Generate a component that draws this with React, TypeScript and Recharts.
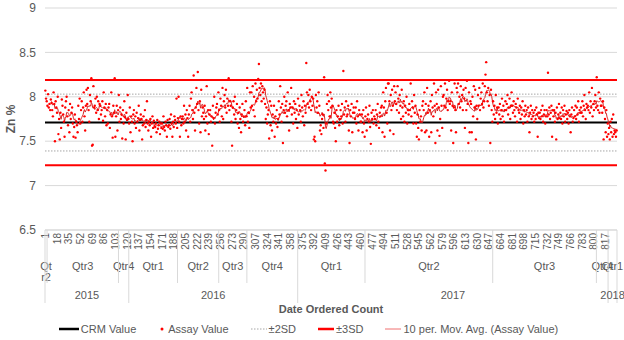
import { ComposedChart, Scatter, Line, XAxis, YAxis, CartesianGrid, ReferenceLine, Legend, Label } from 'recharts';

const FONT = '"Liberation Sans", Arial, sans-serif';
const TEXT = '#595959';

// assay values (Zn %) in date-ordered count, 10 per row
const assayValues = [
  8.07, 7.98, 7.95, 7.9, 8.03, 7.88, 7.92, 7.85, 7.97, 7.93,
  7.85, 7.78, 8.05, 7.92, 7.5, 7.95, 7.88, 7.82, 8.0, 7.58,
  7.75, 7.52, 7.82, 7.65, 7.97, 7.9, 7.8, 7.72, 7.55, 7.88,
  7.95, 8.0, 7.78, 7.68, 7.85, 7.6, 7.92, 7.75, 7.82, 7.88,
  7.7, 7.55, 7.66, 7.8, 7.54, 7.72, 7.68, 7.6, 7.9, 7.75,
  7.98, 7.7, 7.85, 7.95, 7.72, 7.88, 8.05, 7.78, 7.62, 7.9,
  8.08, 7.92, 8.1, 7.85, 7.72, 8.02, 7.95, 8.21, 7.45, 7.46,
  8.12, 7.88, 7.9, 7.98, 7.82, 8.0, 7.85, 7.95, 7.75, 7.92,
  7.9, 7.8, 7.85, 7.95, 7.73, 8.05, 7.88, 7.78, 7.92, 7.68,
  7.85, 7.7, 7.88, 7.92, 7.65, 7.8, 8.05, 7.78, 7.54, 7.9,
  7.82, 8.21, 7.55, 7.78, 7.9, 7.62, 7.85, 8.02, 7.72, 7.88,
  7.75, 7.8, 7.53, 7.85, 7.7, 7.95, 7.77, 7.52, 7.82, 7.74,
  8.02, 7.75, 7.7, 7.88, 7.6, 7.78, 7.72, 7.5, 7.8, 7.85,
  7.7, 7.78, 7.65, 7.82, 7.72, 7.76, 7.9, 7.62, 7.74, 7.8,
  7.75, 7.52, 7.68, 7.78, 7.7, 7.85, 7.66, 7.74, 7.95, 7.7,
  7.62, 7.72, 7.68, 7.75, 7.55, 7.7, 7.78, 7.65, 7.73, 7.67,
  7.66, 7.7, 7.6, 7.74, 7.64, 7.68, 7.72, 7.58, 7.7, 7.65,
  7.7, 7.64, 7.78, 7.66, 7.62, 7.72, 7.68, 7.55, 7.74, 7.66,
  7.68, 7.75, 7.64, 7.8, 7.7, 7.55, 7.72, 7.66, 7.78, 7.74,
  7.7, 7.98, 7.65, 7.76, 8.0, 7.72, 7.55, 7.78, 7.68, 7.75,
  7.78, 7.7, 7.9, 7.72, 7.8, 7.62, 7.85, 7.76, 7.55, 7.8,
  7.9, 7.72, 7.98, 8.05, 7.85, 7.75, 8.24, 7.82, 7.62, 7.88,
  8.1, 7.92, 8.28, 7.85, 7.7, 7.95, 7.6, 8.08, 7.78, 7.88,
  7.82, 7.75, 7.9, 7.62, 7.78, 8.12, 7.7, 7.85, 7.58, 7.8,
  7.85, 7.72, 7.78, 7.45, 7.9, 7.76, 8.0, 7.7, 7.82, 7.88,
  7.92, 7.8, 8.05, 7.85, 7.72, 7.98, 7.9, 7.78, 8.1, 7.75,
  7.95, 8.02, 7.88, 8.08, 7.82, 7.98, 7.9, 8.21, 7.85, 7.95,
  7.9, 7.72, 7.45, 7.88, 7.95, 7.8, 8.0, 7.75, 7.85, 7.92,
  7.7, 7.82, 7.65, 7.88, 7.75, 7.6, 7.8, 7.92, 7.72, 7.78,
  7.85, 7.68, 7.95, 7.78, 8.1, 7.72, 7.82, 7.65, 8.05, 7.88,
  8.05, 7.9, 8.12, 7.85, 8.0, 7.78, 8.15, 7.95, 8.08, 7.98,
  8.2, 8.37, 8.1, 8.02, 8.15, 7.95, 8.12, 8.05, 7.98, 8.08,
  7.92, 7.75, 7.88, 7.7, 7.8, 7.85, 7.53, 7.95, 7.68, 7.9,
  7.62, 7.8, 7.72, 7.9, 7.55, 7.78, 7.7, 7.85, 7.66, 7.75,
  7.95, 7.8, 8.12, 7.88, 7.72, 7.92, 7.48, 7.85, 8.0, 7.82,
  7.9, 7.95, 7.78, 8.05, 7.85, 7.62, 7.92, 7.88, 8.1, 7.8,
  7.88, 7.7, 7.95, 7.82, 7.92, 7.75, 7.85, 7.65, 7.98, 7.8,
  7.9, 7.85, 7.72, 8.02, 7.88, 7.78, 7.95, 7.68, 7.9, 7.82,
  8.38, 8.05, 7.92, 8.02, 7.88, 8.08, 7.95, 7.85, 8.0, 7.9,
  7.98, 7.52, 7.55, 7.5, 8.02, 7.88, 7.95, 7.82, 8.05, 7.9,
  7.62, 7.68, 7.58, 7.75, 7.8, 7.65, 8.22, 7.25, 7.17, 7.7,
  7.92, 8.02, 7.85, 7.95, 7.78, 8.05, 7.88, 7.98, 7.9, 7.72,
  7.7, 7.82, 7.65, 7.5, 7.85, 7.72, 7.78, 7.9, 7.68, 7.75,
  7.85, 7.78, 7.92, 7.7, 8.29, 7.8, 7.88, 7.72, 7.95, 7.78,
  7.8, 7.9, 7.62, 7.48, 7.85, 7.78, 7.92, 7.6, 7.82, 7.88,
  7.82, 7.75, 7.88, 7.7, 7.95, 7.78, 7.62, 7.85, 7.8, 7.72,
  7.72, 7.8, 7.6, 7.85, 7.7, 7.55, 7.78, 7.88, 7.62, 7.75,
  7.8, 7.72, 7.9, 7.66, 7.47, 7.82, 7.75, 7.85, 7.7, 7.78,
  7.75, 7.85, 7.68, 7.8, 7.92, 7.72, 7.65, 7.82, 7.78, 7.88,
  7.9, 7.6, 8.05, 7.88, 7.55, 7.95, 8.1, 7.82, 7.7, 8.15,
  8.15, 7.95, 7.62, 8.02, 7.85, 8.08, 7.9, 7.58, 8.12, 7.95,
  8.05, 7.92, 7.85, 8.12, 7.98, 7.82, 8.02, 7.9, 7.75, 8.08,
  7.88, 7.78, 7.95, 7.72, 7.9, 7.82, 8.0, 7.7, 7.85, 7.8,
  7.92, 7.85, 8.15, 7.78, 7.95, 7.88, 7.7, 8.02, 7.82, 7.9,
  7.7, 7.55, 7.8, 7.65, 7.52, 7.85, 7.72, 7.78, 7.62, 7.9,
  7.95, 7.85, 8.05, 7.6, 7.92, 7.62, 8.1, 7.82, 7.9, 7.55,
  7.85, 7.95, 7.6, 8.02, 7.88, 7.78, 8.15, 7.9, 7.48, 8.05,
  7.92, 7.62, 8.08, 7.88, 7.56, 7.75, 8.12, 7.9, 7.65, 8.0,
  8.02, 7.9, 8.15, 7.88, 7.98, 8.08, 7.85, 7.95, 8.18, 7.92,
  7.95, 7.62, 8.05, 7.9, 7.48, 7.88, 8.15, 7.85, 7.6, 8.1,
  8.05, 8.15, 7.92, 8.0, 7.88, 8.12, 7.95, 8.02, 7.85, 8.08,
  7.98, 7.65, 8.1, 7.85, 8.18, 7.92, 7.48, 8.05, 7.6, 7.95,
  7.92, 7.6, 8.0, 7.78, 8.12, 7.88, 8.08, 7.52, 7.9, 7.75,
  8.02, 7.9, 8.1, 7.85, 7.98, 8.05, 7.92, 8.15, 7.88, 7.95,
  8.12, 8.25, 8.39, 8.05, 7.95, 8.1, 7.9, 8.02, 7.48, 8.08,
  7.85, 7.72, 7.95, 7.8, 7.9, 7.75, 8.02, 7.82, 7.88, 7.7,
  7.88, 7.8, 7.92, 7.75, 7.85, 7.98, 7.78, 7.9, 7.72, 7.85,
  7.95, 7.85, 7.92, 8.02, 7.8, 7.88, 7.98, 7.75, 7.9, 8.05,
  7.9, 7.82, 7.95, 7.85, 7.78, 7.92, 7.88, 7.72, 7.98, 7.85,
  7.82, 7.9, 7.75, 7.88, 7.8, 7.95, 7.7, 7.85, 7.78, 7.9,
  7.8, 7.85, 7.72, 7.88, 7.78, 7.6, 7.82, 7.9, 7.75, 7.85,
  7.78, 7.82, 7.72, 7.85, 7.75, 7.88, 7.8, 7.55, 7.82, 7.76,
  7.82, 7.75, 7.85, 7.78, 7.9, 7.72, 7.8, 7.85, 7.7, 7.78,
  7.85, 7.78, 8.27, 7.8, 7.88, 7.75, 7.82, 7.9, 7.55, 7.85,
  7.78, 7.85, 7.72, 7.82, 7.52, 7.88, 7.75, 7.8, 7.92, 7.76,
  7.82, 7.75, 7.88, 7.7, 7.85, 7.78, 7.9, 7.72, 7.8, 7.84,
  7.75, 7.82, 7.7, 7.85, 7.78, 7.6, 7.8, 7.88, 7.72, 7.76,
  7.85, 7.78, 7.9, 7.75, 7.88, 7.8, 7.95, 7.72, 7.85, 7.82,
  7.88, 7.82, 7.95, 7.78, 7.9, 8.02, 7.85, 7.75, 7.92, 7.88,
  7.9, 7.85, 8.05, 7.82, 7.95, 7.88, 8.1, 7.78, 7.92, 7.85,
  7.95, 8.02, 7.88, 8.22, 7.9, 7.85, 8.05, 7.82, 7.98, 7.9,
  7.9, 7.82, 7.95, 7.52, 7.88, 7.75, 7.6, 7.85, 7.55, 7.7,
  7.58, 7.65, 7.52, 7.72, 7.6, 7.75, 7.55, 7.8, 7.58, 7.62,
  7.6, 7.55, 7.62,
];

const countTicks = [1, 18, 35, 52, 69, 86, 103, 120, 137, 154, 171, 188, 205, 222, 239, 256, 273, 290, 307, 324, 341, 358, 375, 392, 409, 426, 443, 460, 477, 494, 511, 528, 545, 562, 579, 596, 613, 630, 647, 664, 681, 698, 715, 732, 749, 766, 783, 800, 817];

const quarterLabels = ['Qtr2', 'Qtr3', 'Qtr4', 'Qtr1', 'Qtr2', 'Qtr3', 'Qtr4', 'Qtr1', 'Qtr2', 'Qtr3', 'Qtr4', 'Qtr1'];
const quarterStarts = [1, 4, 108, 123, 194, 254, 295, 369, 467, 653, 804, 821];
const yearLabels = ['2015', '2016', '2017', '2018'];
const yearStarts = [1, 123, 369, 821];

const crmValue = 7.71;
const sd2Lines = [8.03, 7.39];
const sd3Lines = [8.19, 7.23];
const yTicks = [6.5, 7, 7.5, 8, 8.5, 9];

const N = assayValues.length;

const chartData = assayValues.map((v, i) => {
  let ma: number | null = null;
  if (i >= 9) {
    let s = 0;
    for (let k = i - 9; k <= i; k++) s += assayValues[k];
    ma = s / 10;
  }
  return { idx: i + 1, assay: v, ma };
});

// one numeric axis carries three kinds of ticks: counts, group labels and group dividers
type TickInfo = { kind: 'count' | 'quarter' | 'year' | 'qline' | 'yline'; text?: string; span?: number };
const tickInfo = new Map<number, TickInfo>();
countTicks.forEach((t) => tickInfo.set(t, { kind: 'count', text: String(t) }));
quarterStarts.forEach((s, i) => {
  const e = i + 1 < quarterStarts.length ? quarterStarts[i + 1] - 1 : N;
  tickInfo.set((s + e) / 2 + 0.0001, { kind: 'quarter', text: quarterLabels[i], span: e - s + 1 });
  tickInfo.set(s - 0.5, { kind: yearStarts.includes(s) ? 'yline' : 'qline' });
});
tickInfo.set(N + 0.5, { kind: 'yline' });
yearStarts.forEach((s, i) => {
  const e = i + 1 < yearStarts.length ? yearStarts[i + 1] - 1 : N;
  tickInfo.set((s + e) / 2 + 0.0002, { kind: 'year', text: yearLabels[i] });
});
const allTicks = Array.from(tickInfo.keys());

function AxisTick(props: any) {
  const { x, y, payload } = props;
  const info = tickInfo.get(payload.value);
  if (!info) return null;
  if (info.kind === 'count') {
    return (
      <text transform={`translate(${x + 3.5},${y + 3}) rotate(-90)`} textAnchor="end" fontSize={10} fill={TEXT} fontFamily={FONT}>
        {info.text}
      </text>
    );
  }
  if (info.kind === 'qline' || info.kind === 'yline') {
    return <line x1={x} x2={x} y1={y} y2={y + (info.kind === 'yline' ? 73 : 53)} stroke="#d9d9d9" strokeWidth={1} />;
  }
  if (info.kind === 'quarter' && info.text && (info.span ?? 99) < 10) {
    return (
      <text x={x} y={y + 40} textAnchor="middle" fontSize={11} fill={TEXT} fontFamily={FONT}>
        <tspan x={x}>{info.text.slice(0, 2)}</tspan>
        <tspan x={x} dy={11}>{info.text.slice(2)}</tspan>
      </text>
    );
  }
  return (
    <text x={x} y={y + (info.kind === 'quarter' ? 40 : 69)} textAnchor="middle" fontSize={11} fill={TEXT} fontFamily={FONT}>
      {info.text}
    </text>
  );
}

const legendItems = [
  { name: 'CRM Value', kind: 'line', color: '#000000', width: 2.5, dash: undefined as string | undefined, len: 20 },
  { name: 'Assay Value', kind: 'dot', color: '#ff0000', width: 0, dash: undefined, len: 8 },
  { name: '±2SD', kind: 'line', color: '#a6a6a6', width: 1, dash: '1.5 1.5', len: 16 },
  { name: '±3SD', kind: 'line', color: '#ff0000', width: 2.5, dash: undefined, len: 16 },
  { name: '10 per. Mov. Avg. (Assay Value)', kind: 'line', color: '#f07070', width: 1, dash: undefined, len: 16 },
];

function LegendContent() {
  return (
    <div style={{ display: 'flex', justifyContent: 'center', alignItems: 'center', height: 22, gap: 22, fontFamily: FONT, fontSize: 11, color: TEXT }}>
      {legendItems.map((it) => (
        <div key={it.name} style={{ display: 'flex', alignItems: 'center', gap: 2 }}>
          <svg width={it.len} height={10}>
            {it.kind === 'dot' ? (
              <circle cx={it.len / 2} cy={5} r={1.5} fill={it.color} />
            ) : (
              <line x1={0} x2={it.len} y1={5} y2={5} stroke={it.color} strokeWidth={it.width} strokeDasharray={it.dash} />
            )}
          </svg>
          <span>{it.name}</span>
        </div>
      ))}
    </div>
  );
}

const Dot = (p: any) => <circle cx={p.cx} cy={p.cy} r={1.2} fill="#ff0000" />;

export default function App() {
  return (
    <div style={{ position: 'absolute', left: 0, top: 0, background: '#fff' }}>
      <ComposedChart width={624} height={340} data={chartData} margin={{ top: 8, right: 7, bottom: 0, left: 0 }}>
        <CartesianGrid vertical={false} stroke="#d9d9d9" />
        <XAxis
          dataKey="idx"
          type="number"
          domain={[0.5, N + 0.5]}
          ticks={allTicks}
          interval={0}
          tick={AxisTick}
          tickLine={false}
          tickSize={0}
          tickMargin={0}
          axisLine={{ stroke: '#d9d9d9' }}
          height={88}
        >
          <Label
            content={(p: any) => (
              <text x={p.viewBox.x + p.viewBox.width / 2} y={p.viewBox.y + 83} textAnchor="middle" fontSize={11} fontWeight="bold" fill={TEXT} fontFamily={FONT}>
                Date Ordered Count
              </text>
            )}
          />
        </XAxis>
        <YAxis
          domain={[6.5, 9]}
          ticks={yTicks}
          width={45}
          axisLine={false}
          tickLine={false}
          tickSize={0}
          tickMargin={9}
          tick={{ fontSize: 12, fill: TEXT, fontFamily: FONT }}
        >
          <Label
            content={(p: any) => (
              <text transform={`translate(15,${p.viewBox.y + p.viewBox.height / 2}) rotate(-90)`} textAnchor="middle" fontSize={12} fontWeight="bold" fill={TEXT} fontFamily={FONT}>
                Zn %
              </text>
            )}
          />
        </YAxis>
        <ReferenceLine y={crmValue} stroke="#000000" strokeWidth={2} />
        {sd2Lines.map((v) => (
          <ReferenceLine key={'s2' + v} y={v} stroke="#a6a6a6" strokeWidth={1} strokeDasharray="1.5 1.5" />
        ))}
        {sd3Lines.map((v) => (
          <ReferenceLine key={'s3' + v} y={v} stroke="#ff0000" strokeWidth={2} />
        ))}
        <Scatter dataKey="assay" shape={Dot} isAnimationActive={false} />
        <Line dataKey="ma" type="linear" stroke="#d82828" strokeWidth={1} dot={false} connectNulls={false} isAnimationActive={false} />
        <Legend verticalAlign="bottom" content={LegendContent} />
      </ComposedChart>
    </div>
  );
}
